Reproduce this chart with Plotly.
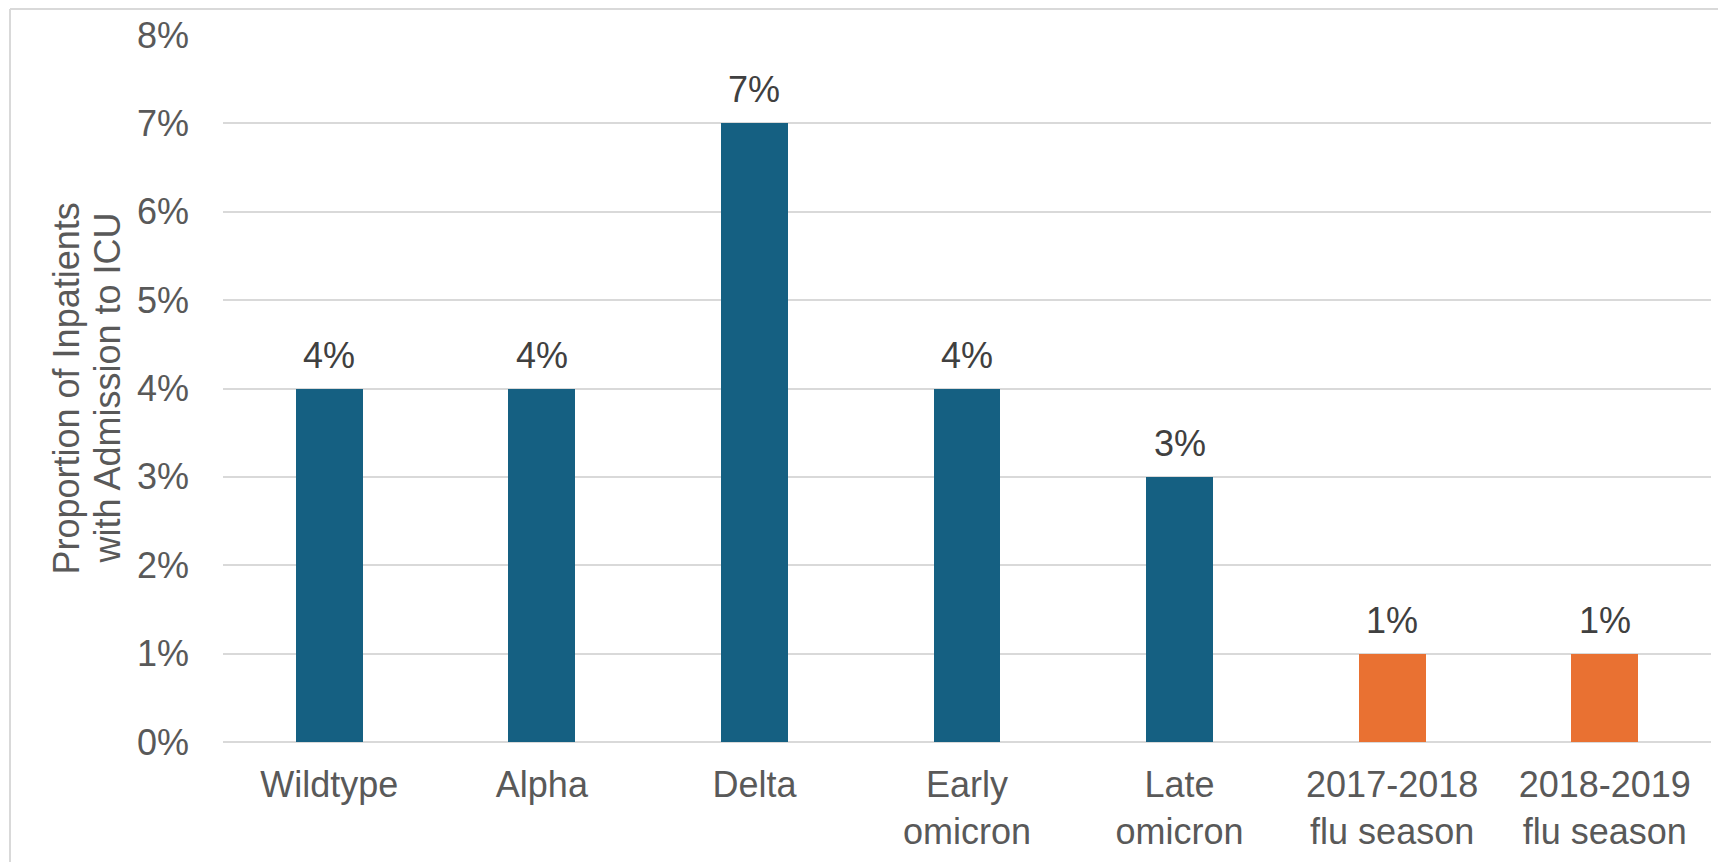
import plotly.graph_objects as go

categories = ["Wildtype", "Alpha", "Delta", "Early<br>omicron", "Late<br>omicron",
              "2017-2018<br>flu season", "2018-2019<br>flu season"]
values = [4, 4, 7, 4, 3, 1, 1]
groups = ["COVID-19", "COVID-19", "COVID-19", "COVID-19", "COVID-19", "Influenza", "Influenza"]
y_ticks = [0, 1, 2, 3, 4, 5, 6, 7, 8]
y_title_lines = ["Proportion of Inpatients", "with Admission to ICU"]

group_colors = {"COVID-19": "#156082", "Influenza": "#E97132"}
FONT = "Liberation Sans, Arial, sans-serif"

W, H = 1726, 862
OFF = 8  # page body margin
# plot area in screen pixels: x 223..1711, y 35..742
L, T = 223 - OFF, 35 - OFF
R = W - (1711 - OFF)
B = H - (742 - OFF)
pw, ph = W - L - R, H - T - B

def px_to_xpaper(px):
    return (px - OFF - L) / pw

def px_to_ypaper(py):
    return (H - B - (py - OFF)) / ph

fig = go.Figure()
fig.add_trace(go.Bar(
    x=categories, y=values,
    marker=dict(color=[group_colors[g] for g in groups], line=dict(width=0)),
    width=0.315,
    hoverinfo="x+y",
))

annotations = []
for c, v in zip(categories, values):
    annotations.append(dict(
        x=c, y=v, xref="x", yref="y", text=f"{v}%", showarrow=False,
        yanchor="bottom", yshift=11,
        font=dict(family=FONT, size=36, color="#404040"),
    ))

for line, cx in zip(y_title_lines, [66, 107]):
    annotations.append(dict(
        x=px_to_xpaper(cx), y=0.5, xref="paper", yref="paper", text=line,
        showarrow=False, textangle=-90, xanchor="center", yanchor="middle",
        font=dict(family=FONT, size=36, color="#595959"),
    ))

shapes = [
    dict(type="line", xref="paper", yref="paper",
         x0=px_to_xpaper(10), x1=px_to_xpaper(10), y0=px_to_ypaper(9), y1=px_to_ypaper(900),
         line=dict(color="#d9d9d9", width=2)),
    dict(type="line", xref="paper", yref="paper",
         x0=px_to_xpaper(10), x1=px_to_xpaper(1800), y0=px_to_ypaper(9), y1=px_to_ypaper(9),
         line=dict(color="#d9d9d9", width=2)),
]

fig.update_layout(
    width=W, height=H,
    margin=dict(l=L, r=R, t=T, b=B, pad=0, autoexpand=False),
    paper_bgcolor="white", plot_bgcolor="white",
    showlegend=False,
    bargap=0,
    font=dict(family=FONT, size=36, color="#595959"),
    annotations=annotations,
    shapes=shapes,
    xaxis=dict(
        showgrid=False, showline=False, zeroline=False, automargin=False,
        tickfont=dict(family=FONT, size=36, color="#595959"),
        ticks="", ticklabelstandoff=18,
    ),
    yaxis=dict(
        range=[0, 8], tickvals=y_ticks, ticktext=[f"{t}%" for t in y_ticks],
        showgrid=True, gridcolor="#d9d9d9", gridwidth=1.5, automargin=False,
        zeroline=True, zerolinecolor="#d9d9d9", zerolinewidth=2,
        showline=False, ticks="",
        tickfont=dict(family=FONT, size=36, color="#595959"),
        ticklabelstandoff=33,
    ),
)

fig.write_html("out.html")
